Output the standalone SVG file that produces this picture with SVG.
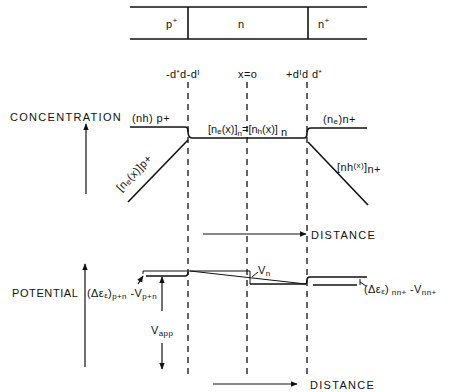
<svg xmlns="http://www.w3.org/2000/svg" width="450" height="392" viewBox="0 0 450 392">
<defs>
<marker id="ah" viewBox="0 0 10 10" refX="9" refY="5" markerWidth="7" markerHeight="7" orient="auto-start-reverse" markerUnits="userSpaceOnUse">
<path d="M0,1 L10,5 L0,9 Z" fill="#111"/>
</marker>
<style>
text{font-family:"Liberation Sans",Arial,sans-serif;fill:#111;font-size:11px;letter-spacing:0.4px}
.ln{stroke:#111;stroke-width:1.6;fill:none}
.th{stroke:#111;stroke-width:1;fill:none}
.ds{stroke:#111;stroke-width:1.3;stroke-dasharray:6,5;fill:none}
.ar{stroke:#111;stroke-width:1.2;fill:none;marker-end:url(#ah)}
.lbl{font-size:11px;letter-spacing:1.3px}
.sub{font-size:8px}
</style>
</defs>
<rect width="450" height="392" fill="#fff"/>

<g id="bar">
<line class="ln" x1="130" y1="7" x2="367" y2="7"/>
<line class="ln" x1="130" y1="39" x2="367" y2="39"/>
<line class="ln" x1="188" y1="7" x2="188" y2="39"/>
<line class="ln" x1="308" y1="7" x2="308" y2="39"/>
<text x="166" y="28">p<tspan dy="-5" class="sub">+</tspan></text>
<text x="238" y="28">n</text>
<text x="318" y="28">n<tspan dy="-5" class="sub">+</tspan></text>
</g>

<g id="markers">
<line class="ds" x1="188" y1="82" x2="188" y2="376"/>
<line class="ds" x1="247" y1="82" x2="247" y2="378"/>
<line class="ds" x1="307" y1="82" x2="307" y2="376"/>
<text x="166" y="78">-d<tspan dy="-3" class="sub">*</tspan><tspan dy="3">d-d</tspan><tspan dy="-3" class="sub">I</tspan></text>
<text x="238" y="78">x=o</text>
<text x="286" y="78">+d<tspan dy="-3" class="sub">I</tspan><tspan dy="3">d d</tspan><tspan dy="-3" class="sub">*</tspan></text>
</g>

<g id="concentration">
<text class="lbl" x="10" y="121">CONCENTRATION</text>
<line class="ar" x1="86" y1="194" x2="86" y2="124"/>
<path class="ln" d="M130,127 H185 Q188,127 188,131 Q188,138 192,138 H304 Q307,138 307,133 Q307,128 311,128 H367"/>
<line class="ln" x1="188" y1="140" x2="128" y2="202"/>
<line class="ln" x1="308" y1="142" x2="368" y2="205"/>
<text x="132" y="122">(nh) p+</text>
<text x="208" y="133" style="letter-spacing:0">[n<tspan class="sub" dy="1">e</tspan><tspan dy="-1">(x)]</tspan><tspan class="sub" dy="3">n</tspan><tspan dy="-3">=[n</tspan><tspan class="sub" dy="1">h</tspan><tspan dy="-1">(x)]</tspan><tspan dy="3"> n</tspan></text>
<text x="323" y="123">(n<tspan class="sub" dy="1">e</tspan><tspan dy="-1">)n+</tspan></text>
<text x="337" y="171">[nh<tspan class="sub" dy="-3">(x)</tspan><tspan dy="3">]</tspan><tspan dy="2">n+</tspan></text>
<text transform="translate(121,192) rotate(-46)">[n<tspan class="sub" dy="1">e</tspan><tspan dy="-1">(x)]p+</tspan></text>
<line class="ar" x1="203" y1="234" x2="306" y2="234"/>
<text class="lbl" x="311" y="239">DISTANCE</text>
</g>

<g id="potential">
<text class="lbl" x="12" y="297" style="letter-spacing:0.6px">POTENTIAL</text>
<line class="ar" x1="85" y1="367" x2="85" y2="264"/>
<text x="87" y="297">(Δε<tspan class="sub" dy="1">ε</tspan><tspan dy="-1">)</tspan><tspan class="sub" dy="2">p+n</tspan><tspan dy="-2"> -V</tspan><tspan class="sub" dy="2">p+n</tspan></text>
<path class="th" d="M143,274 V271 H250"/>
<path class="ln" d="M146,276 H185 Q188,276 188,272"/>
<line class="th" x1="190" y1="271" x2="306" y2="284"/>
<path class="ln" d="M250,284 H305 Q307,284 307,280 Q307,277 310,277 H367"/>
<line class="th" x1="250" y1="271" x2="250" y2="284"/>
<line class="ln" x1="313" y1="285" x2="357" y2="285"/>
<line class="th" x1="360" y1="279" x2="360" y2="285"/>
<line class="ar" x1="138" y1="284" x2="143" y2="276"/>
<line class="th" x1="252" y1="277" x2="258" y2="272"/>
<text x="258" y="274">V<tspan class="sub" dy="2">n</tspan></text>
<line class="th" x1="360" y1="282" x2="366" y2="286"/>
<text x="364" y="293">(Δε<tspan class="sub" dy="1">ε</tspan><tspan dy="-1">)</tspan><tspan class="sub" dy="2"> nn+</tspan><tspan dy="-2"> -V</tspan><tspan class="sub" dy="2">nn+</tspan></text>
<line class="ar" x1="162" y1="311" x2="162" y2="277"/>
<text x="151" y="334">V<tspan class="sub" dy="2">app</tspan></text>
<line class="ar" x1="162" y1="343" x2="162" y2="369"/>
<line class="ar" x1="213" y1="384" x2="297" y2="384"/>
<text class="lbl" x="310" y="389">DISTANCE</text>
</g>
</svg>
